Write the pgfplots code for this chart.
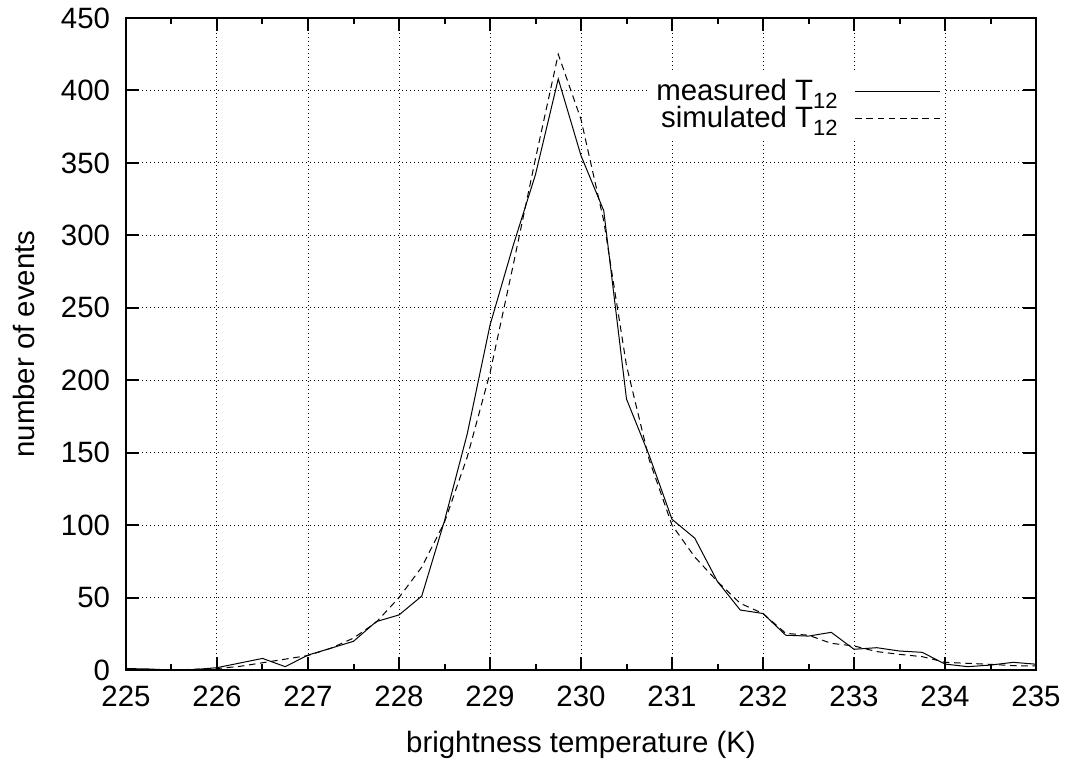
\documentclass[border=0pt]{standalone}
\usepackage{fontspec}
\setmainfont{Liberation Sans}
\usepackage{pgfplots}
\pgfplotsset{compat=1.18}
\pgfplotstableread{
x y
225 1
225.25 0.7
225.5 0
225.75 0.3
226 1.6
226.25 4.8
226.5 8
226.75 2.3
227 10.3
227.25 15
227.5 19.8
227.75 33.4
228 38
228.25 51
228.5 103
228.75 163
229 238
229.25 292
229.5 342
229.75 408
230 355
230.25 317
230.5 187
230.75 148
231 104
231.25 91
231.5 61
231.75 41.4
232 39
232.25 24
232.5 23.4
232.75 26
233 14.3
233.25 15.4
233.5 13.1
233.75 12.2
234 4.1
234.25 2.3
234.5 3.4
234.75 5.3
235 4
}\measured
\pgfplotstableread{
x y
225 0
225.25 0
225.5 0
225.75 0.5
226 1
226.25 2.5
226.5 5
226.75 7.5
227 10
227.25 15
227.5 22
227.75 33
228 50
228.25 71
228.5 102
228.75 147
229 205
229.25 278
229.5 353
229.75 425
230 380
230.25 310
230.5 210
230.75 145
231 100
231.25 78
231.5 61
231.75 46
232 39
232.25 25.3
232.5 24
232.75 18.4
233 16.6
233.25 12.7
233.5 10.8
233.75 9.2
234 5.3
234.25 4.6
234.5 3.9
234.75 3
235 2.8
}\simulated
\newcommand{\sub}[1]{\raisebox{-4bp}{\fontsize{11bp}{12bp}\selectfont #1}}
\begin{document}
\begin{tikzpicture}
\useasboundingbox (-63bp,-45bp) rectangle (469.5bp,335bp);
\begin{axis}[
  at={(0,0)}, anchor=south west, scale only axis,
  width=455bp, height=326bp,
  xmin=225, xmax=235, ymin=0, ymax=450,
  xtick={225,226,...,235}, ytick={0,50,...,450},
  minor xtick={225.5,226.5,...,234.5},
  tick align=inside, tick pos=both,
  major tick length=6.5bp, minor tick length=3bp,
  grid=major,
  major grid style={black, line width=0.5bp, dash pattern=on 0.6bp off 1.4bp},
  axis line style={line width=1bp},
  every tick/.style={black, line width=1bp},
  tick label style={font=\fontsize{14.7bp}{17bp}\selectfont},
  label style={font=\fontsize{14.7bp}{17bp}\selectfont},
  xticklabel style={yshift=-4.5bp},
  yticklabel style={xshift=-4.5bp},
  /pgf/number format/assume math mode=true,
  /pgf/number format/1000 sep={},
  xlabel={brightness temperature (K)},
  ylabel={number of events},
  xlabel style={at={(axis description cs:0.5,-0.115)}, anchor=center},
  ylabel style={at={(axis description cs:-0.112,0.5)}, anchor=center},
  legend style={at={(0.9,0.919)}, anchor=north east, draw=none, fill=white,
    font=\fontsize{14.7bp}{17bp}\selectfont, row sep=-2.5bp, column sep=6.5bp,
    inner sep=2bp, nodes={inner sep=2bp}},
  legend cell align=right,
  legend plot pos=right,
  legend image code/.code={\draw[#1] (0bp,0bp) -- (42.5bp,0bp);},
]
\addplot[black, line width=0.5bp] table {\measured};
\addlegendentry{measured T\sub{12}}
\addplot[black, line width=0.5bp, dash pattern=on 3.3bp off 2.3bp] table {\simulated};
\addlegendentry{simulated T\sub{12}}
\end{axis}
\end{tikzpicture}
\end{document}
